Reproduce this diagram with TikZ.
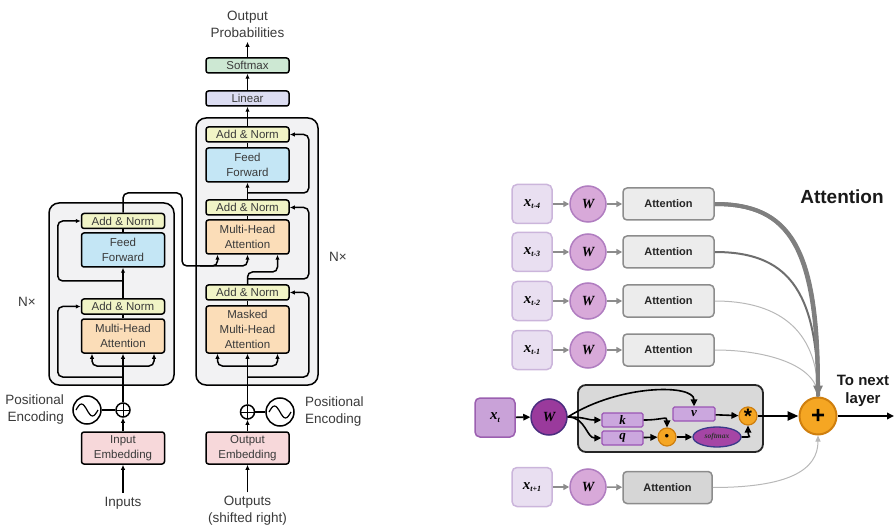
\documentclass[tikz,border=0pt]{standalone}
\usepackage{fontspec}
\setmainfont{Liberation Sans}
\setsansfont{Liberation Sans}
\newfontfamily\xfont{Liberation Serif}
\usetikzlibrary{arrows.meta, positioning, shapes.geometric, calc}
\definecolor{tgrey}{HTML}{3A3A3A}
\definecolor{cnorm}{HTML}{F1F4C6}
\definecolor{cffwd}{HTML}{C4E6F5}
\definecolor{cattn}{HTML}{FBDDB8}
\definecolor{cembd}{HTML}{F7D8DA}
\definecolor{clin}{HTML}{DCDDF2}
\definecolor{csmax}{HTML}{CDE8D3}
\definecolor{cblock}{HTML}{F2F2F3}
\definecolor{cxbox}{HTML}{E9DFF1}
\definecolor{cxedge}{HTML}{CBB5DB}
\definecolor{cwfill}{HTML}{D8A9D9}
\definecolor{cwedge}{HTML}{B07DC0}
\definecolor{catt}{HTML}{ECECEC}
\definecolor{cattdark}{HTML}{D6D6D6}
\definecolor{cattedge}{HTML}{8C8C8C}
\definecolor{corng}{HTML}{F5A623}
\definecolor{corngedge}{HTML}{CF7F0E}
\definecolor{ckqv}{HTML}{CBA7DE}
\definecolor{ckqvedge}{HTML}{9B55B5}
\definecolor{cxt}{HTML}{C9A2D8}
\definecolor{cxtedge}{HTML}{9B5FB0}
\definecolor{cwdark}{HTML}{9A3A9C}
\definecolor{cwdarkedge}{HTML}{4B2D7F}
\definecolor{csoft}{HTML}{A545A5}
\definecolor{csoftedge}{HTML}{3A3A8A}
\definecolor{ctbox}{HTML}{D9D9D9}
\definecolor{ccurve}{HTML}{7F7F7F}
\definecolor{ccurvemid}{HTML}{6E6E6E}
\definecolor{ccurvelt}{HTML}{B8B8B8}
\tikzset{
  every picture/.style={font=\sffamily, line width=1.5pt},
  box/.style={draw=black, fill=#1, rounded corners=2.5pt, align=center, inner sep=0pt, minimum width=83pt, minimum height=15pt, font=\fontsize{11.5}{15}\selectfont, text=tgrey},
  block/.style={draw=black, fill=cblock, rounded corners=10pt, inner sep=0pt},
  lbl/.style={font=\fontsize{13.5}{17}\selectfont, text=tgrey, align=center},
  arr/.style={-{Latex[length=5pt, width=4.5pt]}},
  rnd/.style={rounded corners=5pt},
  oplus/.style={circle, draw, inner sep=0pt, minimum size=14pt, path picture={\draw[line width=1pt] (path picture bounding box.north) -- (path picture bounding box.south) (path picture bounding box.west) -- (path picture bounding box.east);}},
  posenc/.style={circle, draw, inner sep=0pt, minimum size=28pt},
  xbox/.style={rounded corners=5pt, minimum width=40pt, minimum height=39pt, inner sep=0pt, fill=cxbox, draw=cxedge, line width=1.5pt},
  wnode/.style={circle, minimum size=36pt, inner sep=0pt, fill=cwfill, draw=cwedge, line width=1.5pt},
  attbox/.style={rounded corners=4pt, minimum width=91pt, minimum height=32pt, inner sep=0pt, fill=catt, draw=cattedge, line width=1.5pt, font=\bfseries\fontsize{11}{13}\selectfont, text=black!85},
  kqv/.style={minimum width=41pt, minimum height=14pt, inner sep=0pt, fill=ckqv, draw=ckqvedge, line width=1.3pt, rounded corners=1.5pt, font=\xfont\bfseries\itshape\fontsize{13}{13}\selectfont},
  opnode/.style={circle, minimum size=18pt, inner sep=0pt, fill=corng, draw=corngedge, line width=1.2pt},
  garr/.style={-{Triangle[length=6pt, width=6pt]}, draw=cattedge, line width=1.5pt},
  barr/.style={-{Triangle[length=7pt, width=6.5pt]}, draw=black, line width=1.6pt},
  heading/.style={font=\bfseries\fontsize{19}{22}\selectfont, text=black!90},
}
\newcommand\xlab[1]{{\xfont\bfseries\itshape\fontsize{15}{15}\selectfont x\raisebox{-2.5pt}{\fontsize{8}{8}\selectfont #1}}}
\newcommand\wlab{{\xfont\bfseries\itshape\fontsize{14}{14}\selectfont W}}

\begin{document}
\begin{tikzpicture}[x=1pt, y=-1pt]
  \useasboundingbox (0,0) rectangle (894,529);

  % encoder
  \node[block, minimum width=125pt, minimum height=182pt] (eBlock) at (111.5,294) {};
  \node[box=cnorm] (eAN2) at (123,221) {Add \& Norm};
  \node[box=cffwd, minimum height=34pt] (eFF) at (123,250) {Feed\\Forward};
  \node[box=cnorm] (eAN1) at (123,306.5) {Add \& Norm};
  \node[box=cattn, minimum height=34pt] (eMHA) at (123,336) {Multi-Head\\Attention};
  \node[oplus] (ePlus) at (123,410) {};
  \node[posenc] (ePE) at (87,410) {};
  \node[box=cembd, minimum height=32pt] (eIn) at (123,448) {Input\\Embedding};
  \node[lbl, align=right, anchor=east] (ePELbl) at (68,409.5) {Positional\\Encoding};
  \node[lbl] (inputs) at (123,503) {Inputs};
  \node[lbl] (nxL) at (27,302) {N×};
  \coordinate (eSplit) at (123,366);
  \coordinate (eRes1) at (123,377);
  \coordinate (eRes2) at (123,281);
  \coordinate (eTurn) at (182,193);
  \coordinate (kvBus) at (200,266);

  % decoder
  \node[block, minimum width=122pt, minimum height=267pt] (dBlock) at (257,251.5) {};
  \node[box=cnorm] (dAN3) at (247.5,134.5) {Add \& Norm};
  \node[box=cffwd, minimum height=34pt] (dFF) at (247.5,165) {Feed\\Forward};
  \node[box=cnorm] (dAN2) at (247.5,207.5) {Add \& Norm};
  \node[box=cattn, minimum height=34pt] (dMHA) at (247.5,237) {Multi-Head\\Attention};
  \node[box=cnorm] (dAN1) at (247.5,292.5) {Add \& Norm};
  \node[box=cattn, minimum height=47pt] (dMMHA) at (247.5,329.5) {Masked\\Multi-Head\\Attention};
  \node[oplus] (dPlus) at (247.5,412) {};
  \node[posenc] (dPE) at (280,412) {};
  \node[box=cembd, minimum height=32pt] (dIn) at (247.5,448) {Output\\Embedding};
  \node[lbl, align=left, anchor=west] (dPELbl) at (301,411.5) {Positional\\Encoding};
  \node[lbl] (outputs) at (247.5,511) {Outputs\\(shifted right)};
  \node[box=clin] (lin) at (247.5,98.5) {Linear};
  \node[box=csmax] (smax) at (247.5,65.5) {Softmax};
  \node[lbl] (outProb) at (247.5,24.5) {Output\\Probabilities};
  \node[lbl] (nxR) at (338,257) {N×};
  \coordinate (dSplit) at (247.5,366);
  \coordinate (dRes1) at (247.5,377);
  \coordinate (qTurn) at (247.5,272);
  \coordinate (dRes2) at (247.5,279);
  \coordinate (dRes3) at (247.5,193);

  \draw[line width=1.2pt] ($(ePE.center)+(-11,0)$) sin ++(5.5,-6) cos ++(5.5,6) sin ++(5.5,6) cos ++(5.5,-6);
  \draw[line width=1.2pt] ($(dPE.center)+(-11,0)$) sin ++(5.5,-6) cos ++(5.5,6) sin ++(5.5,6) cos ++(5.5,-6);

  \draw[arr] (inputs) -- (eIn);
  \draw[arr] (eIn) -- (ePlus);
  \draw (ePE) -- (ePlus);
  \draw[arr] (ePlus) -- (eMHA);
  \draw[arr, rnd] (eSplit) -| ([xshift=-31pt]eMHA.south);
  \draw[arr, rnd] (eSplit) -| ([xshift=31pt]eMHA.south);
  \draw[arr, rnd] (eRes1) -| ([xshift=-23pt]eAN1.west) -- (eAN1.west);
  \draw (eMHA) -- (eAN1);
  \draw[arr] (eAN1) -- (eFF);
  \draw[arr, rnd] (eRes2) -| ([xshift=-23pt]eAN2.west) -- (eAN2.west);
  \draw (eFF) -- (eAN2);
  \draw[arr, rnd] (eAN2.north) |- (eTurn) |- (kvBus) -| ([xshift=-30pt]dMHA.south);
  \draw[arr, rnd] (kvBus) -| (dMHA.south);

  \draw[arr] (outputs) -- (dIn);
  \draw[arr] (dIn) -- (dPlus);
  \draw (dPE) -- (dPlus);
  \draw[arr] (dPlus) -- (dMMHA);
  \draw[arr, rnd] (dSplit) -| ([xshift=-30pt]dMMHA.south);
  \draw[arr, rnd] (dSplit) -| ([xshift=30pt]dMMHA.south);
  \draw[arr, rnd] (dRes1) -| ([xshift=19pt]dAN1.east) -- (dAN1.east);
  \draw (dMMHA) -- (dAN1);
  \draw[arr, rnd] (dAN1.north) -- (qTurn) -| ([xshift=30pt]dMHA.south);
  \draw[arr, rnd] (dRes2) -| ([xshift=19pt]dAN2.east) -- (dAN2.east);
  \draw (dMHA) -- (dAN2);
  \draw[arr] (dAN2) -- (dFF);
  \draw[arr, rnd] (dRes3) -| ([xshift=19pt]dAN3.east) -- (dAN3.east);
  \draw (dFF) -- (dAN3);
  \draw[arr] (dAN3) -- (lin);
  \draw[arr] (lin) -- (smax);
  \draw[arr] (smax) -- (outProb);

  % attention over time steps
  \node[heading] (attTitle) at (842,197) {Attention};
  \node[circle, minimum size=37pt, inner sep=0pt, fill=corng, draw=corngedge, line width=2pt, font=\bfseries\fontsize{24}{24}\selectfont] (plus) at (818,416) {+};
  \node[font=\bfseries\fontsize{15}{18}\selectfont, align=center, text=black!90] (nextLbl) at (863,391) {To next\\layer};
  \coordinate (nextEnd) at (894,416);

  \foreach \i/\y/\t/\lw/\col/\ca/\cb in {1/350/{t-1}/1/ccurvelt/55/30, 2/301/{t-2}/1/ccurvelt/60/70, 3/252/{t-3}/2/ccurvemid/70/110, 4/204/{t-4}/4/ccurve/75/150} {
    \node[xbox] (x\i) at (532,\y) {\xlab{\t}};
    \node[wnode] (w\i) at (588,\y) {\wlab};
    \node[attbox] (att\i) at (668.5,\y) {Attention};
    \draw[garr] (x\i) -- (w\i);
    \draw[garr] (w\i) -- (att\i);
    \draw[draw=\col, line width=\lw pt] (att\i.east) .. controls +(\ca,0) and +(0,-\cb) .. (plus.north);
  }
  \draw[-{Triangle[length=11pt, width=9pt]}, draw=ccurve, line width=4pt] (att4.east) .. controls +(75,0) and +(0,-150) .. (plus.north);

  \node[xbox] (x5) at (532,487) {\xlab{t+1}};
  \node[wnode] (w5) at (588,487) {\wlab};
  \node[attbox, fill=cattdark, minimum width=89pt] (att5) at (667.5,487.5) {Attention};
  \draw[garr] (x5) -- (w5);
  \draw[garr] (w5) -- (att5);
  \draw[-{Triangle[length=6pt, width=5pt]}, draw=ccurvelt, line width=1pt] (att5.east) .. controls +(75,0) and +(0,35) .. (plus.south);

  \node[draw=black!85, fill=ctbox, rounded corners=8pt, line width=1.8pt, minimum width=185pt, minimum height=67pt, inner sep=0pt] (tBox) at (670.5,418.5) {};
  \node[xbox, fill=cxt, draw=cxtedge] (xt) at (495,417.5) {\xlab{t}};
  \node[wnode, fill=cwdark, draw=cwdarkedge] (wt) at (549,417) {\wlab};
  \node[kqv] (k) at (622.5,420) {k};
  \node[kqv] (q) at (622.5,438) {q};
  \node[kqv, minimum width=42pt] (v) at (694,414) {v};
  \node[opnode, font=\fontsize{13}{13}\selectfont] (dotc) at (667,437) {•};
  \node[ellipse, minimum width=48pt, minimum height=20pt, inner sep=0pt, fill=csoft, draw=csoftedge, line width=1.3pt, font=\xfont\bfseries\itshape\fontsize{7.5}{7.5}\selectfont, text=black!80] (smx) at (717,437) {softmax};
  \node[opnode, font=\bfseries\fontsize{21}{21}\selectfont] (star) at (748,416) {\raisebox{-7.5pt}{*}};

  \draw[barr] (xt) -- (wt);
  \draw[barr] (wt.east) .. controls +(18,0) and +(-15,0) .. (k.west);
  \draw[barr] (wt.east) .. controls +(18,0) and +(-15,0) .. (q.west);
  \draw[barr] (wt.east) .. controls (620,384) and (694,384) .. (v.north);
  \draw[barr] (k.east) .. controls +(20,0) and +(0,-12) .. (dotc.north);
  \draw[barr] (q) -- (dotc);
  \draw[barr] (dotc) -- (smx);
  \draw[barr] (smx.east) .. controls +(12,0) and +(0,12) .. (star.south);
  \draw[barr] (v) -- (star);
  \draw[barr, line width=2.4pt, -{Triangle[length=11pt, width=9pt]}] (star) -- (plus);
  \draw[barr, line width=2pt] (plus) -- (nextEnd);
\end{tikzpicture}
\end{document}
